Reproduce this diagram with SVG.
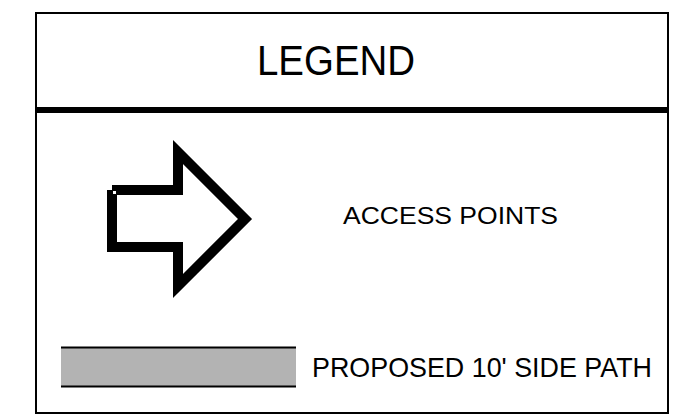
<svg xmlns="http://www.w3.org/2000/svg" width="694" height="416" viewBox="0 0 694 416">
  <style>
    .label { font-family: "Liberation Sans", Arial, sans-serif; fill: #000; }
    .frame { fill: #fff; stroke: #000; stroke-width: 2; }
  </style>
  <rect width="694" height="416" fill="#fff"/>

  <!-- outer frame and title divider -->
  <g id="frame">
    <rect class="frame" x="36" y="13" width="632" height="400"/>
    <line x1="36" y1="110" x2="668" y2="110" stroke="#000" stroke-width="6"/>
  </g>

  <g id="title">
    <text class="label" x="257" y="75" font-size="42" textLength="158" lengthAdjust="spacingAndGlyphs">LEGEND</text>
  </g>

  <!-- access point symbol -->
  <g id="access-points">
    <path d="M112 190 H178 V152 L245 219 L178 286 V247 H112 V190" fill="none" stroke="#000" stroke-width="10" stroke-linejoin="miter" stroke-linecap="butt"/>
    <rect x="113" y="191" width="3" height="3" fill="#fff"/>
    <text class="label" x="343" y="224" font-size="23.5" textLength="215" lengthAdjust="spacingAndGlyphs">ACCESS POINTS</text>
  </g>

  <!-- side path symbol -->
  <g id="side-path">
    <rect x="61" y="348" width="235" height="38" fill="#b3b3b3"/>
    <line x1="61" y1="347.5" x2="296" y2="347.5" stroke="#000" stroke-width="2"/>
    <line x1="61" y1="386.5" x2="296" y2="386.5" stroke="#000" stroke-width="2"/>
    <text class="label" x="312" y="377" font-size="28" textLength="340" lengthAdjust="spacingAndGlyphs">PROPOSED 10' SIDE PATH</text>
  </g>
</svg>
